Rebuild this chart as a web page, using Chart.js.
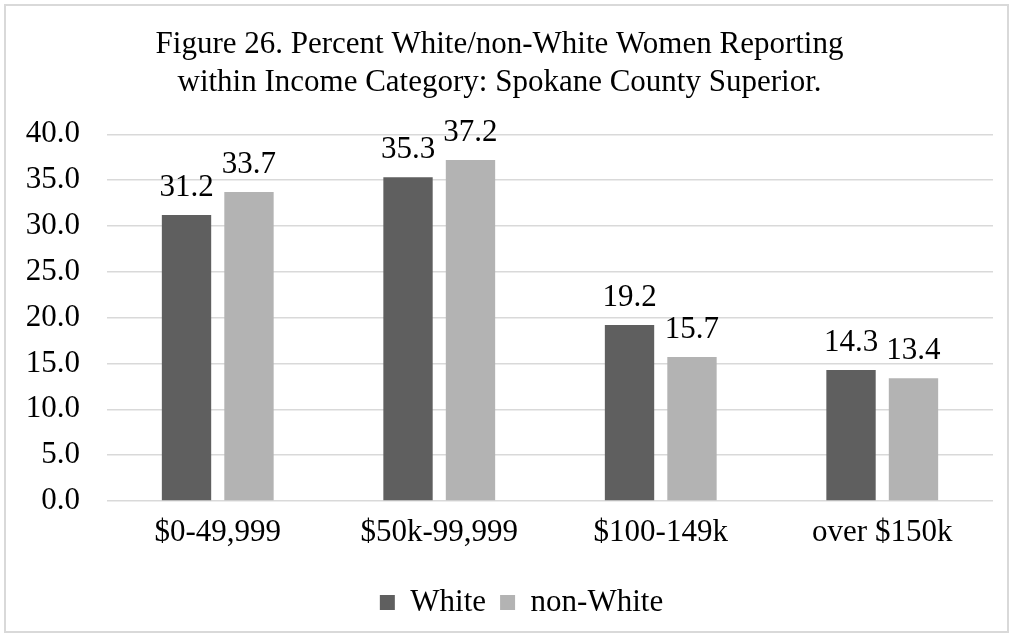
<!DOCTYPE html>
<html>
<head>
<meta charset="utf-8">
<script src="https://cdn.jsdelivr.net/npm/chart.js@4.4.1/dist/chart.umd.min.js"></script>
<style>
  html, body { margin: 0; padding: 0; background: #fff; }
  #wrap {
    position: absolute; left: 4px; top: 4px;
    width: 1001px; height: 625px;
    border: 2px solid #d9d9d9;
  }
</style>
</head>
<body>
<div id="wrap"><canvas id="chart" width="1001" height="625"></canvas></div>
<script>
// Categorías de ingreso y porcentajes por grupo
const incomeCategories = ['$0-49,999', '$50k-99,999', '$100-149k', 'over $150k'];
const whiteValues = [31.2, 35.3, 19.2, 14.3];
const nonWhiteValues = [33.7, 37.2, 15.7, 13.4];
const seriesNames = ['White', 'non-White'];

const FONT = '"Liberation Serif", "Times New Roman", serif';
const FSIZE = 31;

// Etiquetas de valor sobre cada barra
const valueLabels = {
    id: 'valueLabels',
    afterDatasetsDraw(chart) {
        const ctx = chart.ctx;
        ctx.save();
        ctx.font = FSIZE + 'px ' + FONT;
        ctx.fillStyle = '#000';
        ctx.textAlign = 'center';
        ctx.textBaseline = 'alphabetic';
        chart.data.datasets.forEach((ds, i) => {
            chart.getDatasetMeta(i).data.forEach((bar, j) => {
                ctx.fillText(ds.data[j].toFixed(1), bar.x, bar.y - 19);
            });
        });
        ctx.restore();
    }
};

// Desplazar la leyenda un poco a la derecha
const legendShift = {
    id: 'legendShift',
    afterLayout(chart) {
        chart.legend.left += 22;
        chart.legend.right += 22;
    }
};

new Chart(document.getElementById('chart').getContext('2d'), {
    type: 'bar',
    data: {
        labels: incomeCategories,
        datasets: [{
            label: seriesNames[0],
            data: whiteValues,
            backgroundColor: '#5f5f5f'
        }, {
            label: seriesNames[1],
            data: nonWhiteValues,
            backgroundColor: '#b3b3b3'
        }]
    },
    options: {
        responsive: false,
        animation: false,
        categoryPercentage: 0.564,
        barPercentage: 0.79,
        layout: { padding: { left: 0, right: 14, bottom: 3 } },
        plugins: {
            title: {
                display: true,
                text: ['Figure 26. Percent White/non-White Women Reporting',
                       'within Income Category: Spokane County Superior.'],
                color: '#000',
                font: { family: FONT, size: FSIZE, weight: 'normal', lineHeight: 1.23 },
                padding: { top: 20, bottom: 32 }
            },
            legend: {
                position: 'bottom',
                labels: {
                    color: '#000',
                    font: { family: FONT, size: FSIZE },
                    boxWidth: 15,
                    boxHeight: 15,
                    padding: 14
                }
            },
            tooltip: { enabled: false }
        },
        scales: {
            x: {
                afterFit: s => { s.height = 72; },
                grid: { display: false },
                border: { display: false },
                ticks: {
                    color: '#000',
                    font: { family: FONT, size: FSIZE },
                    padding: 5
                }
            },
            y: {
                min: 0,
                max: 40,
                afterFit: s => { s.width = 101; },
                grid: { color: '#d9d9d9', lineWidth: 1.5, drawTicks: false },
                border: { display: false },
                ticks: {
                    stepSize: 5,
                    color: '#000',
                    font: { family: FONT, size: FSIZE },
                    padding: 27,
                    callback: v => v.toFixed(1)
                }
            }
        }
    },
    plugins: [valueLabels, legendShift]
});
</script>
</body>
</html>
